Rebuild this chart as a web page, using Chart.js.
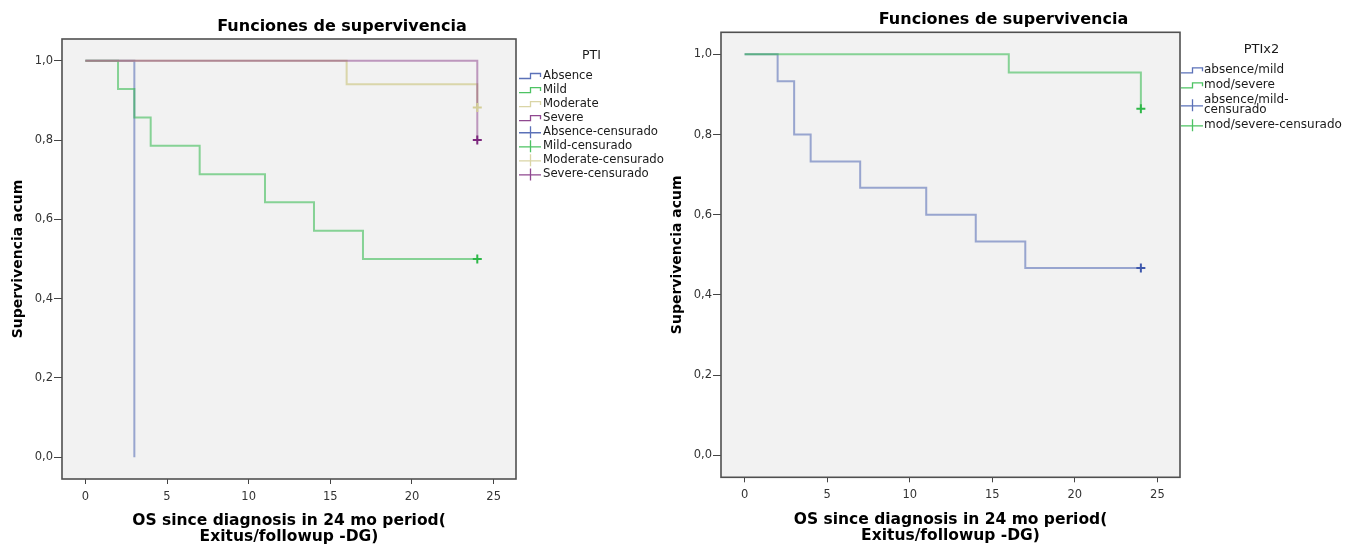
<!DOCTYPE html>
<html lang="es">
<head>
<meta charset="utf-8">
<title>Funciones de supervivencia</title>
<script src="https://cdn.jsdelivr.net/npm/chart.js@4/dist/chart.umd.min.js"></script>
<style>
  html, body { margin: 0; padding: 0; background: #fff; }
  body { width: 1357px; height: 546px; position: relative; overflow: hidden; }
  canvas { position: absolute; top: 0; }
  #kmPti { left: 0; }
  #kmPtix2 { left: 660px; }
</style>
</head>
<body>
<canvas id="kmPti" width="684" height="546"></canvas>
<canvas id="kmPtix2" width="687" height="546"></canvas>
<script>
// Kaplan-Meier survival estimates, months since diagnosis (24-month window)
const xTicks = [0, 5, 10, 15, 20, 25];
const yTicks = [0, 0.2, 0.4, 0.6, 0.8, 1.0];

// PTI, four groups: step times and cumulative survival after each step
const ptiLabels = ['Absence', 'Mild', 'Moderate', 'Severe'];
const absenceTime = [0, 3];
const absenceSurv = [1, 0];
const mildTime = [0, 2, 3, 4, 7, 11, 14, 17, 24];
const mildSurv = [1, 0.929, 0.857, 0.786, 0.714, 0.643, 0.571, 0.5, 0.5];
const moderateTime = [0, 16, 24];
const moderateSurv = [1, 0.941, 0.882];
const severeTime = [0, 24];
const severeSurv = [1, 0.8];
// censored cases
const absenceCensTime = [];
const absenceCensSurv = [];
const mildCensTime = [24];
const mildCensSurv = [0.5];
const moderateCensTime = [24];
const moderateCensSurv = [0.882];
const severeCensTime = [24];
const severeCensSurv = [0.8];

// PTIx2, two groups
const ptix2Labels = ['absence/mild', 'mod/severe'];
const absMildTime = [0, 2, 3, 4, 7, 11, 14, 17, 24];
const absMildSurv = [1, 0.933, 0.8, 0.733, 0.667, 0.6, 0.533, 0.467, 0.467];
const modSevTime = [0, 16, 24];
const modSevSurv = [1, 0.955, 0.864];
const absMildCensTime = [24];
const absMildCensSurv = [0.467];
const modSevCensTime = [24];
const modSevCensSurv = [0.864];

const CENS = '-censurado';
const FONT = 'DejaVu Sans';
Chart.defaults.font.family = FONT;

const RGB = {
  blue: '62,88,172',
  green: '46,184,72',
  beige: '211,206,151',
  purple: '124,40,125'
};
const LINE_ALPHA = { blue: 0.5, green: 0.55, beige: 0.8, purple: 0.45 };

const toPoints = (t, s) => t.map((x, i) => ({ x, y: s[i] }));

function curve(label, t, s, col, order) {
  return {
    label,
    data: toPoints(t, s),
    stepped: true,
    borderColor: `rgba(${RGB[col]},${LINE_ALPHA[col]})`,
    borderWidth: 2,
    pointRadius: 0,
    fill: false,
    order,
    symbolColor: `rgba(${RGB[col]},0.85)`
  };
}

function censored(label, t, s, col) {
  return {
    label,
    data: toPoints(t, s),
    showLine: false,
    pointStyle: 'cross',
    pointRadius: 4.5,
    pointBorderWidth: 2,
    pointBorderColor: `rgb(${RGB[col]})`,
    borderColor: `rgb(${RGB[col]})`,
    backgroundColor: `rgb(${RGB[col]})`,
    order: 0,
    symbolColor: `rgba(${RGB[col]},0.85)`
  };
}

// Split a long legend entry after its last hyphen
function wrapLabel(ctx, text, maxW) {
  if (ctx.measureText(text).width <= maxW) return [text];
  const k = text.lastIndexOf('-');
  if (k < 0) return [text];
  return [text.slice(0, k + 1), text.slice(k + 1)];
}

function drawSymbol(ctx, ds, x0, y) {
  ctx.save();
  ctx.strokeStyle = ds.symbolColor;
  ctx.lineWidth = 1.3;
  ctx.beginPath();
  if (ds.showLine === false) {
    ctx.moveTo(x0, y + 0.5); ctx.lineTo(x0 + 22, y + 0.5);
    ctx.moveTo(x0 + 11.5, y - 6); ctx.lineTo(x0 + 11.5, y + 6);
  } else {
    ctx.moveTo(x0, y + 2.5);
    ctx.lineTo(x0 + 11.5, y + 2.5);
    ctx.lineTo(x0 + 11.5, y - 2.5);
    ctx.lineTo(x0 + 21.5, y - 2.5);
    ctx.lineTo(x0 + 21.5, y + 1);
  }
  ctx.stroke();
  ctx.restore();
}

function drawKmLegend(chart, box, o) {
  const ctx = chart.ctx;
  const top = chart.chartArea.top;
  const x0 = box.left + o.symbolOffset;
  const xt = box.left + o.textOffset;
  ctx.save();
  ctx.font = `${o.fontSize}px "${FONT}"`;
  const items = chart.data.datasets.map(ds => ({ ds, lines: wrapLabel(ctx, ds.label, o.maxTextWidth) }));
  let textRight = 0;
  items.forEach(it => it.lines.forEach(l => { textRight = Math.max(textRight, xt + ctx.measureText(l).width); }));

  ctx.fillStyle = '#1a1a1a';
  ctx.textBaseline = 'middle';
  ctx.textAlign = 'center';
  ctx.font = `${o.titleSize}px "${FONT}"`;
  ctx.fillText(o.title, (x0 + textRight) / 2, top + o.titleOffset);

  ctx.textAlign = 'left';
  ctx.font = `${o.fontSize}px "${FONT}"`;
  let y = top + o.firstOffset;
  items.forEach(it => {
    const n = it.lines.length;
    drawSymbol(ctx, it.ds, x0, y + (n - 1) * o.lineHeight / 2);
    it.lines.forEach((l, i) => ctx.fillText(l, xt, y + i * o.lineHeight));
    y += (n - 1) * o.lineHeight + o.itemStep;
  });
  ctx.restore();
}

// Legend laid out as its own box to the right of the plot
const kmLegend = {
  id: 'kmLegend',
  beforeInit(chart) {
    const box = {
      position: 'right',
      weight: 100,
      fullSize: false,
      options: {},
      width: 0, height: 0, top: 0, left: 0, right: 0, bottom: 0,
      isHorizontal() { return false; },
      update(maxWidth, maxHeight) {
        this.width = chart.options.plugins.kmLegend.width;
        this.height = maxHeight;
      },
      getPadding() { return { top: 0, left: 0, right: 0, bottom: 0 }; },
      draw() { drawKmLegend(chart, this, chart.options.plugins.kmLegend); }
    };
    Chart.layouts.addBox(chart, box);
  }
};

// Grey plot background with a closed frame
const plotFrame = {
  id: 'plotFrame',
  beforeDraw(chart) {
    const { ctx, chartArea: a } = chart;
    ctx.save();
    ctx.fillStyle = '#f2f2f2';
    ctx.fillRect(a.left, a.top, a.right - a.left, a.bottom - a.top);
    ctx.restore();
  },
  afterDatasetsDraw(chart) {
    const { ctx, chartArea: a } = chart;
    ctx.save();
    ctx.strokeStyle = '#505050';
    ctx.lineWidth = 1.6;
    ctx.strokeRect(a.left, a.top, a.right - a.left, a.bottom - a.top);
    ctx.restore();
  }
};

function makeOptions(L) {
  return {
    responsive: false,
    animation: false,
    devicePixelRatio: 1,
    events: [],
    layout: { padding: 0 },
    plugins: {
      legend: { display: false },
      tooltip: { enabled: false },
      title: {
        display: true,
        text: 'Funciones de supervivencia',
        color: '#000',
        font: { family: FONT, size: 16, weight: 'bold', lineHeight: 1.2 },
        padding: { top: L.titleTop, bottom: L.titleBottom }
      },
      kmLegend: L.legend
    },
    scales: {
      x: {
        type: 'linear',
        min: -1.43,
        max: 26.37,
        afterBuildTicks: s => { s.ticks = xTicks.map(v => ({ value: v })); },
        afterFit: s => { s.height = L.xHeight; },
        ticks: {
          color: '#333', font: { family: FONT, size: 11.5 }, padding: 6,
          autoSkip: false, maxRotation: 0, callback: v => String(v)
        },
        grid: { display: true, drawOnChartArea: false, drawTicks: true, tickLength: 5, color: '#444', lineWidth: 1 },
        border: { display: false },
        title: {
          display: true,
          text: ['OS since diagnosis in 24 mo period(', 'Exitus/followup -DG)'],
          color: '#000',
          font: { family: FONT, size: 15.5, weight: 'bold', lineHeight: 1.05 },
          padding: { top: 0, bottom: L.xTitlePad }
        }
      },
      y: {
        type: 'linear',
        min: -0.055,
        max: 1.055,
        afterBuildTicks: s => { s.ticks = yTicks.map(v => ({ value: v })); },
        afterFit: s => { s.width = L.yWidth; },
        ticks: {
          color: '#333', font: { family: FONT, size: 11.5 }, padding: 1,
          callback: v => v.toFixed(1).replace('.', ',')
        },
        grid: { display: true, drawOnChartArea: false, drawTicks: true, tickLength: 8, color: '#444', lineWidth: 1 },
        border: { display: false },
        title: {
          display: true,
          text: 'Supervivencia acum',
          color: '#000',
          font: { family: FONT, size: 14, weight: 'bold', lineHeight: 1.2 },
          padding: { top: L.yTitlePad, bottom: 0 }
        }
      }
    }
  };
}

new Chart(document.getElementById('kmPti'), {
  type: 'line',
  data: {
    datasets: [
      curve(ptiLabels[0], absenceTime, absenceSurv, 'blue', 4),
      curve(ptiLabels[1], mildTime, mildSurv, 'green', 3),
      curve(ptiLabels[2], moderateTime, moderateSurv, 'beige', 2),
      curve(ptiLabels[3], severeTime, severeSurv, 'purple', 1),
      censored(ptiLabels[0] + CENS, absenceCensTime, absenceCensSurv, 'blue'),
      censored(ptiLabels[1] + CENS, mildCensTime, mildCensSurv, 'green'),
      censored(ptiLabels[2] + CENS, moderateCensTime, moderateCensSurv, 'beige'),
      censored(ptiLabels[3] + CENS, severeCensTime, severeCensSurv, 'purple')
    ]
  },
  options: makeOptions({
    titleTop: 17, titleBottom: 2.8,
    xHeight: 67, xTitlePad: 1,
    yWidth: 62, yTitlePad: 10,
    legend: {
      width: 168, title: 'PTI', titleSize: 12.5, fontSize: 11.7,
      symbolOffset: 3, textOffset: 27, titleOffset: 16.5, firstOffset: 37,
      itemStep: 14.06, lineHeight: 10, maxTextWidth: 145
    }
  }),
  plugins: [kmLegend, plotFrame]
});

new Chart(document.getElementById('kmPtix2'), {
  type: 'line',
  data: {
    datasets: [
      curve(ptix2Labels[0], absMildTime, absMildSurv, 'blue', 2),
      curve(ptix2Labels[1], modSevTime, modSevSurv, 'green', 1),
      censored(ptix2Labels[0] + CENS, absMildCensTime, absMildCensSurv, 'blue'),
      censored(ptix2Labels[1] + CENS, modSevCensTime, modSevCensSurv, 'green')
    ]
  },
  options: makeOptions({
    titleTop: 10.3, titleBottom: 2.8,
    xHeight: 68.7, xTitlePad: 1.5,
    yWidth: 61, yTitlePad: 8.6,
    legend: {
      width: 167, title: 'PTIx2', titleSize: 13, fontSize: 12,
      symbolOffset: 1, textOffset: 24, titleOffset: 17.5, firstOffset: 38,
      itemStep: 15, lineHeight: 10, maxTextWidth: 145
    }
  }),
  plugins: [kmLegend, plotFrame]
});
</script>
</body>
</html>
